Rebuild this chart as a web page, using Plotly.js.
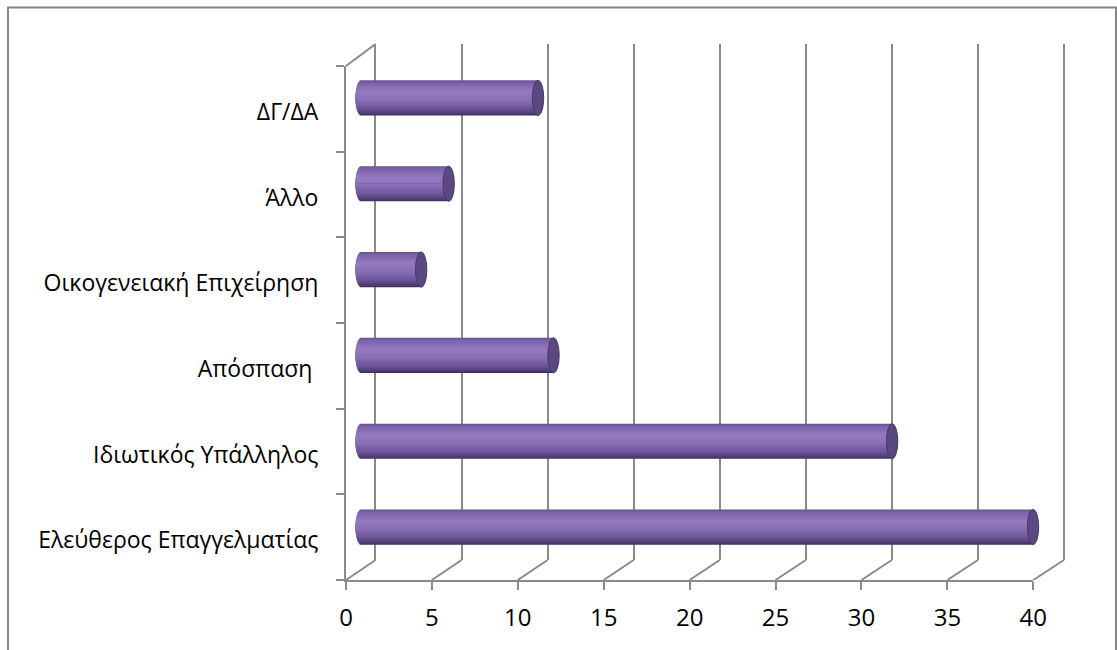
<!DOCTYPE html>
<html>
<head>
<meta charset="utf-8">
<script src="https://cdn.plot.ly/plotly-3.0.1.min.js"></script>
<style>
  html, body { margin: 0; padding: 0; background: #ffffff; }
  #chart { width: 1117px; height: 650px; }
</style>
</head>
<body>
<div id="chart"></div>
<script>
// Occupation categories, bottom to top, and their shares (%)
const categories = [
  "Ελεύθερος Επαγγελματίας",
  "Ιδιωτικός Υπάλληλος",
  "Απόσπαση\u00a0",
  "Οικογενειακή Επιχείρηση",
  "Άλλο",
  "ΔΓ/ΔΑ"
];
const values = [39.1, 30.9, 11.2, 3.5, 5.1, 10.3];
const xTicks = [0, 5, 10, 15, 20, 25, 30, 35, 40];

// ---- page geometry (pixels) ----
const W = 1117, H = 650;
const fx = p => p / W;           // pixel x -> paper
const fy = p => 1 - p / H;       // pixel y -> paper

const X_MAX = 40;
const frontPlane = { left: 346, right: 1033.3, top: 66, bottom: 580 };
const backPlane  = { left: 375.5, right: 1064, top: 44, bottom: 560 };
const midPlane   = { left: 361, right: 1048.5, top: 55, bottom: 570 };

const GRID = "#8a8a8a";
const FONT = "Open Sans, Noto Sans, DejaVu Sans, sans-serif";

// cylinder look
const BAR_H = 0.41;        // bar thickness in category units
const CAP_HW = 0.33;       // half width of the end ellipse in value units
const STRIPES = 30;
const shadeStops = [
  [0.00, [100, 78, 142]],
  [0.07, [122, 98, 168]],
  [0.33, [150, 122, 193]],
  [0.55, [138, 111, 182]],
  [0.80, [108, 85, 152]],
  [0.94, [80, 62, 115]],
  [1.00, [60, 45, 88]]
];
function shade(t) {
  for (let i = 1; i < shadeStops.length; i++) {
    const [t1, c1] = shadeStops[i];
    const [t0, c0] = shadeStops[i - 1];
    if (t <= t1) {
      const k = (t - t0) / (t1 - t0);
      const c = c0.map((v, j) => Math.round(v + (c1[j] - v) * k));
      return `rgb(${c[0]},${c[1]},${c[2]})`;
    }
  }
  const c = shadeStops[shadeStops.length - 1][1];
  return `rgb(${c[0]},${c[1]},${c[2]})`;
}

const positions = categories.map((_, i) => i);
const traces = [];

// back wall subplot (x / y): holds the vertical grid
traces.push({
  type: "scatter", x: [0], y: [0], xaxis: "x", yaxis: "y",
  mode: "markers", marker: { opacity: 0 }, hoverinfo: "skip", showlegend: false
});

// front subplot (x2 / y2): value axis and category labels
traces.push({
  type: "scatter", x: categories.map(() => 0), y: categories,
  xaxis: "x2", yaxis: "y2",
  mode: "markers", marker: { opacity: 0 }, hoverinfo: "skip", showlegend: false
});

// bars (x3 / y3): each cylinder is a pile of horizontal bands, painted from
// the outer edges towards the centre line so that neighbouring bands overlap
const half = STRIPES / 2;
const bandH = BAR_H / STRIPES;
function bandTrace(s) {
  const tMid = (s + 0.5) / STRIPES;          // 0 = top edge, 1 = bottom edge
  const u = 1 - 2 * tMid;                     // 1..-1 across the bar
  const startOffset = -CAP_HW * Math.sqrt(Math.max(0, 1 - u * u));
  const bases = values.map(() => startOffset);
  const upper = s < half;
  // upper bands reach down to the centre line, lower bands reach up to it
  const width = upper ? (half - s) * bandH : (s - half + 1) * bandH;
  return {
    type: "bar", orientation: "h",
    xaxis: "x3", yaxis: "y3",
    y: positions,
    base: bases,
    x: values.map((v, i) => v - bases[i]),
    width: width,
    offset: upper ? BAR_H / 2 - s * bandH - width : -(s + 1 - half) * bandH,
    marker: { color: shade(tMid), line: { width: 0 } },
    hoverinfo: "skip", showlegend: false
  };
}
for (let s = 0; s < half; s++) traces.push(bandTrace(s));
for (let s = STRIPES - 1; s >= half; s--) traces.push(bandTrace(s));

// ---- shapes ----
const shapes = [];
const frontX = k => frontPlane.left + (frontPlane.right - frontPlane.left) * k / X_MAX;
const backX = k => backPlane.left + (backPlane.right - backPlane.left) * k / X_MAX;

// floor diagonals joining the front ticks to the back wall
xTicks.forEach(k => {
  shapes.push({
    type: "line", xref: "paper", yref: "paper", layer: "below",
    x0: fx(frontX(k)), y0: fy(frontPlane.bottom),
    x1: fx(backX(k)), y1: fy(backPlane.bottom),
    line: { color: GRID, width: 2 }
  });
});
// top edge of the side wall
shapes.push({
  type: "line", xref: "paper", yref: "paper", layer: "below",
  x0: fx(frontPlane.left), y0: fy(frontPlane.top),
  x1: fx(backPlane.left), y1: fy(backPlane.top),
  line: { color: GRID, width: 2 }
});
// end caps of the cylinders
values.forEach((v, i) => {
  shapes.push({
    type: "circle", xref: "x3", yref: "y3", layer: "above",
    x0: v - CAP_HW, x1: v + CAP_HW,
    y0: i - BAR_H / 2, y1: i + BAR_H / 2,
    fillcolor: "rgb(90,72,128)",
    line: { color: "rgb(72,56,104)", width: 1 }
  });
});
// chart border
shapes.push({
  type: "rect", xref: "paper", yref: "paper", layer: "below",
  x0: fx(8), y0: fy(662), x1: fx(1116), y1: fy(7.5),
  line: { color: "#868686", width: 2 }, fillcolor: "rgba(0,0,0,0)"
});

const xUnitBack = (backPlane.right - backPlane.left) / X_MAX;
const xUnit3 = (midPlane.right - midPlane.left) / X_MAX;
const PADV = 0.2;   // small margin so the edge grid lines are kept

const layout = {
  width: W, height: H,
  margin: { l: 0, r: 0, t: 0, b: 0, pad: 0 },
  autosize: false,
  paper_bgcolor: "#ffffff",
  plot_bgcolor: "rgba(0,0,0,0)",
  showlegend: false,
  barmode: "overlay",
  font: { family: FONT, color: "#000000" },

  // back wall
  xaxis: {
    domain: [fx(backPlane.left - PADV * xUnitBack), fx(backPlane.right + PADV * xUnitBack)],
    anchor: "y",
    range: [-PADV, X_MAX + PADV], tickvals: xTicks, showticklabels: false, ticks: "",
    showgrid: true, gridcolor: GRID, gridwidth: 2,
    zeroline: false, showline: false, fixedrange: true
  },
  yaxis: {
    domain: [fy(backPlane.bottom), fy(backPlane.top)], anchor: "x",
    range: [0, 1], visible: false, fixedrange: true
  },

  // front axes
  xaxis2: {
    domain: [fx(frontPlane.left), fx(frontPlane.right)], anchor: "y2",
    range: [0, X_MAX], tickvals: xTicks,
    ticks: "outside", ticklen: 8, tickwidth: 2, tickcolor: GRID,
    showline: true, linecolor: GRID, linewidth: 2,
    showgrid: false, zeroline: false,
    tickfont: { family: FONT, size: 24, color: "#000000" },
    ticklabelstandoff: 7, fixedrange: true
  },
  yaxis2: {
    domain: [fy(frontPlane.bottom), fy(frontPlane.top)], anchor: "x2",
    type: "category", categoryorder: "array", categoryarray: categories,
    range: [-0.5, categories.length - 0.5],
    tickson: "boundaries", ticks: "outside", ticklen: 8, tickwidth: 2, tickcolor: GRID,
    showline: true, linecolor: GRID, linewidth: 2,
    showgrid: false, zeroline: false,
    tickfont: { family: FONT, size: 23, color: "#000000" },
    ticklabelstandoff: 21, ticklabelshift: 3, fixedrange: true
  },

  // bar plane, half way between front and back
  xaxis3: {
    domain: [fx(midPlane.left - xUnit3), fx(midPlane.right + xUnit3)], anchor: "y3",
    range: [-1, X_MAX + 1], visible: false, fixedrange: true
  },
  yaxis3: {
    domain: [fy(midPlane.bottom), fy(midPlane.top)], anchor: "x3",
    range: [-0.5, categories.length - 0.5], visible: false, fixedrange: true
  },

  shapes: shapes
};

Plotly.newPlot("chart", traces, layout, { staticPlot: true, displayModeBar: false });
</script>
</body>
</html>
